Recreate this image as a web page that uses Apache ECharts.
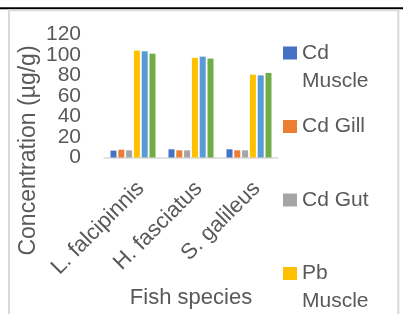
<!DOCTYPE html>
<html>
<head>
<meta charset="utf-8">
<script src="https://cdn.jsdelivr.net/npm/echarts@6/dist/echarts.min.js"></script>
<style>html,body{margin:0;padding:0;background:#fff;}#c{width:403px;height:314px;}</style>
</head>
<body>
<div id="c"></div>
<script>
const categories = ['L. falcipinnis', 'H. fasciatus', 'S. galileus'];
const seriesNames = ['Cd Muscle', 'Cd Gill', 'Cd Gut', 'Pb Muscle', 'Pb Gill', 'Pb Gut'];
const legendLabels = ['Cd\nMuscle', 'Cd Gill\n ', 'Cd Gut\n ', 'Pb\nMuscle', 'Pb Gill\n ', 'Pb Gut\n '];
const cdMuscle = [6.7, 8.0, 8.0];
const cdGill = [7.6, 7.0, 7.0];
const cdGut = [7.0, 7.0, 7.0];
const pbMuscle = [104.3, 97.2, 80.8];
const pbGill = [103.6, 98.4, 80.1];
const pbGut = [101.3, 96.5, 82.5];
const yMin = 0, yMax = 120, yStep = 20;
const colors = ['#4472C4', '#ED7D31', '#A5A5A5', '#FFC000', '#5B9BD5', '#70AD47'];
const yTitle = 'Concentration (µg/g)';
const xTitle = 'Fish species';

const values = [cdMuscle, cdGill, cdGut, pbMuscle, pbGill, pbGut];
const FONT = '"Liberation Sans", Arial, sans-serif';
const GREY = '#595959';
const legendIcon = 'path://M0,0h14v13h-14z M0,41h14';

function yAxisDef(showEnds) {
  return {
    type: 'value', min: yMin, max: yMax, interval: yStep, position: 'left', offset: 0,
    axisLine: {show: false}, axisTick: {show: false}, splitLine: {show: false},
    axisLabel: {
      margin: 23, color: GREY, fontFamily: FONT, fontSize: 21, hideOverlap: false,
      showMinLabel: showEnds, showMaxLabel: showEnds,
      formatter: showEnds
        ? function (v) { return (v === yMin || v === yMax) ? String(v) : ''; }
        : function (v) { return String(v); }
    }
  };
}

const chart = echarts.init(document.getElementById('c'), null, {renderer: 'canvas'});
chart.setOption({
  animation: false,
  color: colors,
  textStyle: {fontFamily: FONT},
  grid: {left: 104, right: 125, top: 34.5, bottom: 156.5, containLabel: false},
  xAxis: {
    type: 'category',
    data: categories,
    axisLine: {lineStyle: {color: '#d9d9d9', width: 1.5}},
    axisTick: {show: false},
    axisLabel: {rotate: 45, margin: 20, align: 'right', verticalAlign: 'top', color: GREY, fontSize: 22, fontFamily: FONT, interval: 0, hideOverlap: false}
  },
  yAxis: [yAxisDef(false), yAxisDef(true)],
  legend: {
    orient: 'vertical', left: 283, top: 39, height: 800, padding: 0,
    itemWidth: 14, itemHeight: 41, itemGap: 17.5,
    icon: legendIcon,
    data: seriesNames,
    formatter: function (n) { return legendLabels[seriesNames.indexOf(n)]; },
    textStyle: {color: GREY, fontSize: 21, fontFamily: FONT, lineHeight: 28},
    selectedMode: false
  },
  series: seriesNames.map(function (n, i) {
    return {name: n, type: 'bar', yAxisIndex: 0, data: values[i], barWidth: 6, barGap: '30%'};
  }),
  graphic: [
    {type: 'line', shape: {x1: 0, y1: 8.3, x2: 403, y2: 8.3}, style: {stroke: '#000', lineWidth: 2}, silent: true},
    {type: 'rect', shape: {x: 9, y: 10.3, width: 389.3, height: 400}, style: {fill: 'none', stroke: '#d9d9d9', lineWidth: 2}, silent: true},
    {type: 'text', x: 29, y: 150.5, rotation: Math.PI / 2, style: {text: yTitle, fontSize: 23, fontFamily: FONT, fill: GREY, align: 'center', verticalAlign: 'middle'}, silent: true},
    {type: 'text', x: 191, y: 298, style: {text: xTitle, fontSize: 22, fontFamily: FONT, fill: GREY, align: 'center', verticalAlign: 'middle'}, silent: true}
  ]
});
</script>
</body>
</html>
